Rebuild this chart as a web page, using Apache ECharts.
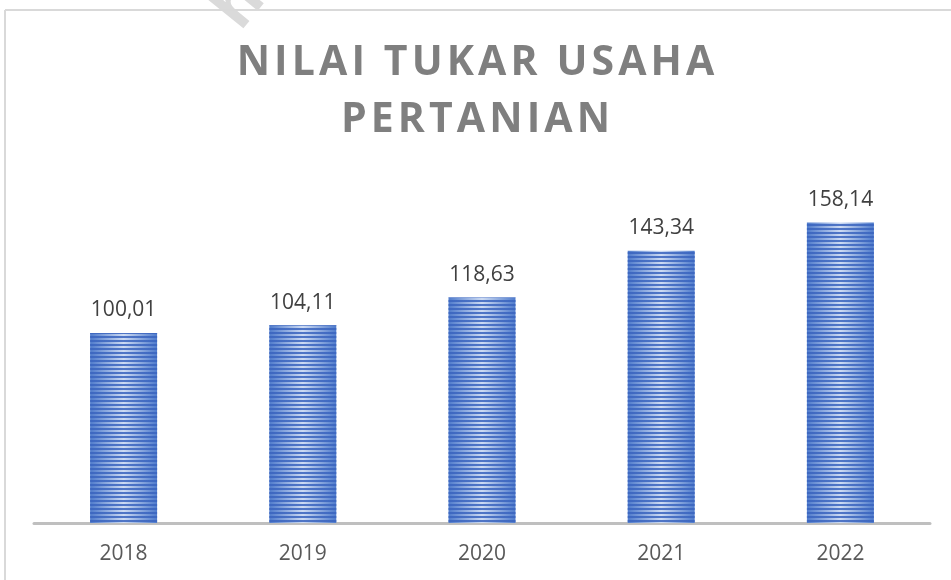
<!DOCTYPE html>
<html>
<head>
<meta charset="utf-8">
<script src="https://cdn.jsdelivr.net/npm/echarts@6/dist/echarts.min.js"></script>
<style>
  html, body { margin: 0; padding: 0; background: #fff; }
  #chart { width: 951px; height: 580px; }
</style>
</head>
<body>
<div id="chart"></div>
<script>
// data
var years = ['2018', '2019', '2020', '2021', '2022']
var ntup = [100.01, 104.11, 118.63, 143.34, 158.14]
var titleLines = ['NILAI TUKAR USAHA', 'PERTANIAN']

// wide letter spacing in the title, done with hair spaces
function spaced (s) {
  return s.split('').join('\u200A')
}

var chart = echarts.init(document.getElementById('chart'))

// bars: light in the middle, darker at the sides, with horizontal stripes on top
var barColor = {
  type: 'linear', x: 0, y: 0, x2: 1, y2: 0,
  colorStops: [
    { offset: 0, color: '#4f7bcc' },
    { offset: 0.5, color: '#cddbf3' },
    { offset: 1, color: '#4f7bcc' }
  ]
}

var option = {
  backgroundColor: '#fff',
  aria: { enabled: true, decal: { show: false } },
  title: {
    text: titleLines.map(spaced).join('\n'),
    left: 'center',
    top: 30,
    textStyle: {
      fontFamily: 'Open Sans',
      fontWeight: 'bold',
      fontSize: 41,
      lineHeight: 57,
      color: '#7f7f7f'
    }
  },
  graphic: [
    { type: 'line', shape: { x1: 5, y1: 10, x2: 951, y2: 10 }, style: { stroke: '#d9d9d9', lineWidth: 2 } },
    { type: 'line', shape: { x1: 5, y1: 10, x2: 5, y2: 580 }, style: { stroke: '#d9d9d9', lineWidth: 2 } },
    // faint watermark cut off at the top edge
    {
      type: 'text',
      x: 251,
      y: 41,
      rotation: 0.89,
      z: -1,
      style: {
        text: 'http',
        fill: '#dadada',
        font: 'bold 64px "Open Sans"',
        textVerticalAlign: 'bottom'
      }
    }
  ],
  grid: { left: 34, right: 21, top: 143, bottom: 57 },
  xAxis: {
    type: 'category',
    data: years,
    axisTick: { show: false },
    axisLine: { lineStyle: { color: '#bfbfbf', width: 3 } },
    axisLabel: { color: '#595959', fontSize: 21, fontFamily: 'Open Sans', margin: 21 }
  },
  yAxis: {
    type: 'value',
    min: 0,
    max: 200,
    show: false,
    splitLine: { show: false }
  },
  series: [
    {
      type: 'bar',
      data: ntup,
      barWidth: 67,
      itemStyle: {
        color: barColor,
        decal: {
          symbol: 'rect',
          symbolSize: 1,
          dashArrayX: [1, 0],
          dashArrayY: [2, 2],
          rotation: 0,
          color: 'rgba(58, 100, 190, 0.85)'
        }
      },
      label: {
        show: true,
        position: 'top',
        distance: 12,
        color: '#404040',
        fontSize: 21,
        fontFamily: 'Open Sans',
        formatter: function (p) {
          return p.value.toFixed(2).replace('.', ',')
        }
      }
    }
  ]
}
chart.setOption(option)
</script>
</body>
</html>
